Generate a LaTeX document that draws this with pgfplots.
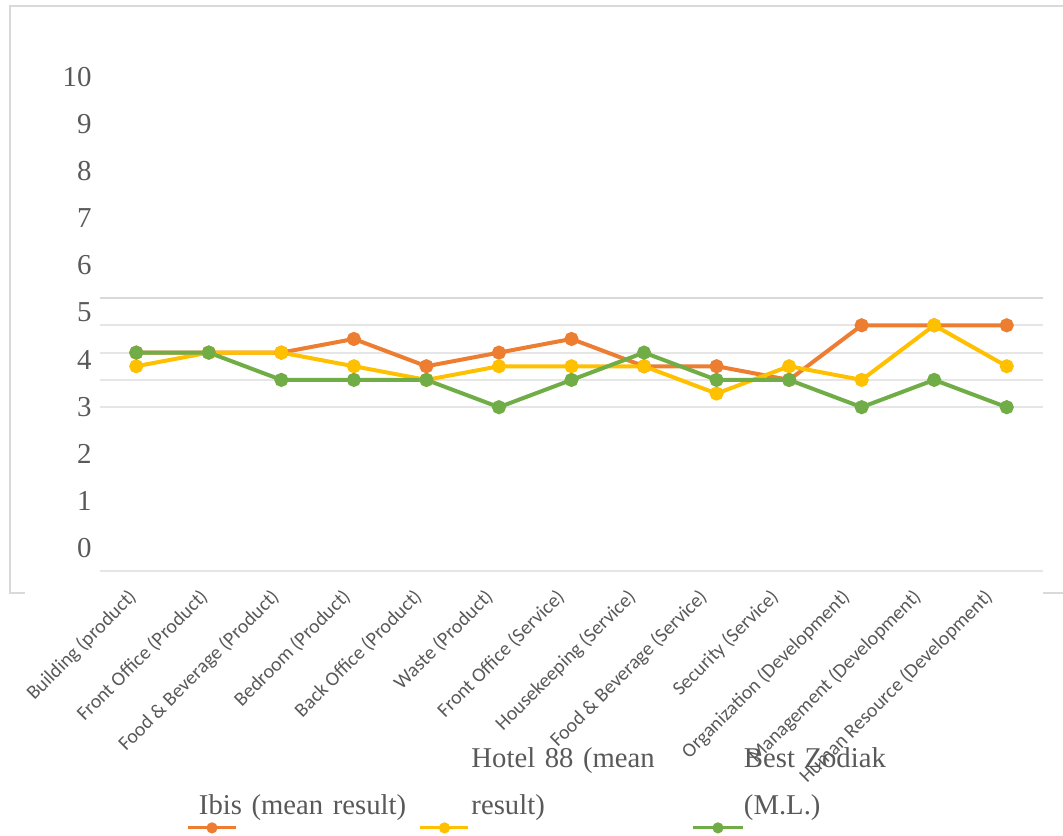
\documentclass[border=0pt]{standalone}
\usepackage{fontspec}
\setmainfont{Liberation Serif}
\newfontfamily\carlito{Carlito}
\usepackage{pgfplots}
\usepackage{pgfplotstable}
\pgfplotsset{compat=1.18}
\definecolor{cOrange}{HTML}{ED7D31}
\definecolor{cYellow}{HTML}{FFC000}
\definecolor{cGreen}{HTML}{70AD47}
\definecolor{frameGray}{HTML}{D9D9D9}
\definecolor{gridGray}{HTML}{E6E6E6}
\definecolor{txtGray}{HTML}{595959}
\pgfplotsset{
  legA/.style={legend image code/.code={\draw[##1, overlay, line width=1.5bp, mark size=2bp, mark repeat=2, mark phase=2] plot coordinates {(-5.5bp,-37.45bp) (6.5bp,-37.45bp) (18.5bp,-37.45bp)};}},
  legB/.style={legend image code/.code={\draw[##1, overlay, line width=1.5bp, mark size=2bp, mark repeat=2, mark phase=2] plot coordinates {(-25.5bp,-37.45bp) (-13.5bp,-37.45bp) (-1.5bp,-37.45bp)};}},
  legC/.style={legend image code/.code={\draw[##1, overlay, line width=1.5bp, mark size=2bp, mark repeat=2, mark phase=2] plot coordinates {(-25.5bp,-37.45bp) (-13bp,-37.45bp) (-0.5bp,-37.45bp)};}},
}
\pgfplotstableread{
idx ibis hotel zodiak
0  4.00 3.75 4.0
1  4.00 4.00 4.0
2  4.00 4.00 3.5
3  4.25 3.75 3.5
4  3.75 3.50 3.5
5  4.00 3.75 3.0
6  4.25 3.75 3.5
7  3.75 3.75 4.0
8  3.75 3.25 3.5
9  3.50 3.75 3.5
10 4.50 3.50 3.0
11 4.50 4.50 3.5
12 4.50 3.75 3.0
}\data
\begin{document}
\begin{tikzpicture}
\useasboundingbox (-50bp,-132.5bp) rectangle (481.5bp,285.5bp);
\draw[frameGray, line width=1bp] (-37.5bp,-11bp) -- (-45bp,-11bp) -- (-45bp,282.5bp) -- (481.5bp,282.5bp);
\draw[frameGray, line width=1bp] (471.5bp,-11bp) -- (481.5bp,-11bp);
% y tick labels (drawn on their own scale, as in the reference)
\begin{axis}[at={(-4bp,11.5bp)}, anchor=south west, scale only axis, width=2bp, height=235.5bp,
  xmin=0, xmax=1, ymin=0, ymax=10, xtick=\empty, ytick={0,1,...,10},
  axis line style={draw=none}, major tick length=0pt, tick style={draw=none},
  yticklabel style={anchor=east, inner sep=0pt, font=\fontsize{14.5}{17}\selectfont, text=txtGray},
  /pgf/number format/assume math mode=true]
\end{axis}
% x tick labels
\begin{axis}[at={(13.5bp,-8bp)}, anchor=south west, scale only axis, width=428bp, height=2bp,
  xmin=0, xmax=12, ymin=0, ymax=1, ytick=\empty, xtick={0,1,...,12},
  xticklabels={Building (product),Front Office (Product),Food \& Beverage (Product),Bedroom (Product),Back Office (Product),Waste (Product),Front Office (Service),Housekeeping (Service),Food \& Beverage (Service),Security (Service),Organization (Development),Management (Development),Human Resource (Development)},
  axis line style={draw=none}, major tick length=0pt, tick style={draw=none},
  xticklabel style={rotate=45, anchor=north east, inner sep=0pt, font=\carlito\fontsize{10}{12}\selectfont, text=txtGray}]
\end{axis}
% main chart
\begin{axis}[at={(0,0)}, anchor=south west, scale only axis, width=471.5bp, height=136.5bp,
  xmin=-0.5, xmax=12.5, ymin=0, ymax=5, clip=false,
  axis line style={draw=none}, xtick=\empty, ytick={0,3,3.5,4,4.5}, yticklabels={},
  ymajorgrids, grid style={gridGray, line width=1bp}, major tick length=0pt, tick style={draw=none},
  extra y ticks={5}, extra y tick labels={}, extra y tick style={grid style={frameGray, line width=1bp}},
  legend columns=3, legend cell align=left,
  legend style={at={(0.10498,-0.6011)}, anchor=north west, draw=none, fill=none, inner sep=0pt, outer sep=0pt,
    column sep=0pt, row sep=0pt, font=\fontsize{14.4}{23.5}\selectfont, text=txtGray,
    nodes={text width=120bp, align=left, inner sep=0pt},
    /tikz/every even column/.append style={column sep=16.25bp}},
]
\addplot[cOrange, line width=2bp, mark=*, mark size=2.5bp, legA] table[x=idx, y=ibis] {\data};
\addlegendentry{\strut\\\strut Ibis (mean result)}
\addplot[cYellow, line width=2bp, mark=*, mark size=2.5bp, legB] table[x=idx, y=hotel] {\data};
\addlegendentry{\strut Hotel 88 (mean\\\strut result)}
\addplot[cGreen, line width=2bp, mark=*, mark size=2.5bp, legC] table[x=idx, y=zodiak] {\data};
\addlegendentry{\strut Best Zodiak\\\strut (M.L.)}
\end{axis}
\end{tikzpicture}
\end{document}
